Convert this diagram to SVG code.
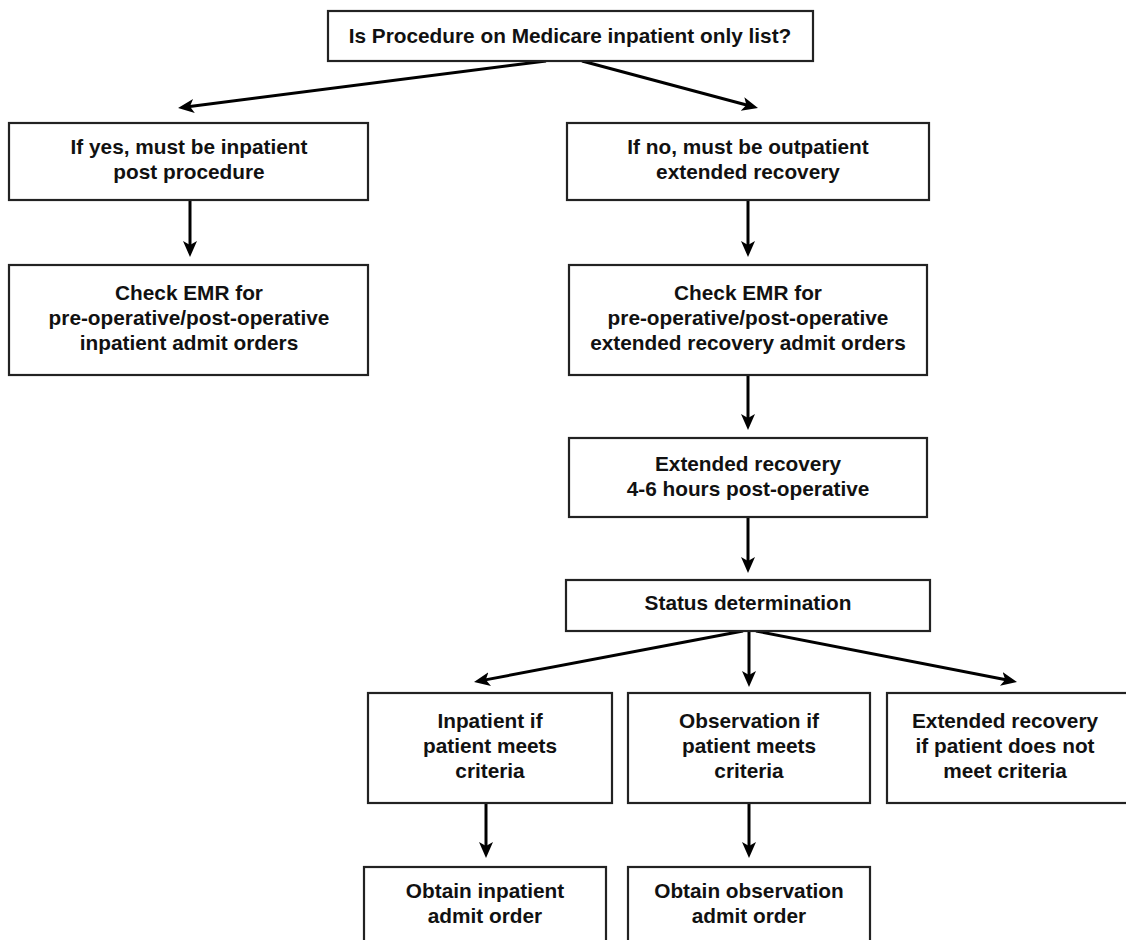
<svg xmlns="http://www.w3.org/2000/svg" width="1126" height="940" viewBox="0 0 1126 940">
<style>
.box{fill:#fff;stroke:#222;stroke-width:2.2}
.t{font-family:"Liberation Sans",Arial,sans-serif;font-weight:bold;font-size:20.8px;fill:#111;text-anchor:middle}
.c{stroke:#000;stroke-width:3;fill:none;marker-end:url(#ah)}
</style>
<defs>
<marker id="ah" markerUnits="userSpaceOnUse" markerWidth="18" markerHeight="16" viewBox="0 0 18 16" refX="10" refY="7" orient="auto">
<path d="M0,0 L16,7 L0,14 L4,7 Z" fill="#000"/>
</marker>
</defs>
<rect width="1126" height="940" fill="#fff"/>
<g id="connectors">
<line class="c" x1="546" y1="61" x2="184" y2="107.2"/>
<line class="c" x1="582" y1="61" x2="752.2" y2="106.5"/>
<line class="c" x1="190" y1="200" x2="190" y2="251"/>
<line class="c" x1="748" y1="200" x2="748" y2="251"/>
<line class="c" x1="748" y1="375" x2="748" y2="424"/>
<line class="c" x1="748" y1="517" x2="748" y2="567"/>
<line class="c" x1="743" y1="631" x2="479.9" y2="680.9"/>
<line class="c" x1="749" y1="631" x2="749" y2="681"/>
<line class="c" x1="756" y1="631" x2="1011.1" y2="680.8"/>
<line class="c" x1="486" y1="803" x2="486" y2="852"/>
<line class="c" x1="749" y1="803" x2="749" y2="852"/>
</g>
<g id="n-start">
<rect class="box" x="328" y="11" width="485" height="50"/>
<text class="t" x="570" y="43">Is Procedure on Medicare inpatient only list?</text>
</g>
<g id="n-yes">
<rect class="box" x="9" y="123" width="359" height="77"/>
<text class="t" x="189" y="154">If yes, must be inpatient</text>
<text class="t" x="189" y="179">post procedure</text>
</g>
<g id="n-no">
<rect class="box" x="567" y="123" width="362" height="77"/>
<text class="t" x="748" y="154">If no, must be outpatient</text>
<text class="t" x="748" y="179">extended recovery</text>
</g>
<g id="n-check-inpatient">
<rect class="box" x="9" y="265" width="359" height="110"/>
<text class="t" x="189" y="300">Check EMR for</text>
<text class="t" x="189" y="325">pre-operative/post-operative</text>
<text class="t" x="189" y="350">inpatient admit orders</text>
</g>
<g id="n-check-extended">
<rect class="box" x="569" y="265" width="358" height="110"/>
<text class="t" x="748" y="300">Check EMR for</text>
<text class="t" x="748" y="325">pre-operative/post-operative</text>
<text class="t" x="748" y="350">extended recovery admit orders</text>
</g>
<g id="n-extended">
<rect class="box" x="569" y="438" width="358" height="79"/>
<text class="t" x="748" y="471">Extended recovery</text>
<text class="t" x="748" y="496">4-6 hours post-operative</text>
</g>
<g id="n-status">
<rect class="box" x="566" y="580" width="364" height="51"/>
<text class="t" x="748" y="610">Status determination</text>
</g>
<g id="n-inpatient">
<rect class="box" x="368" y="693" width="244" height="110"/>
<text class="t" x="490" y="728">Inpatient if</text>
<text class="t" x="490" y="753">patient meets</text>
<text class="t" x="490" y="778">criteria</text>
</g>
<g id="n-observation">
<rect class="box" x="628" y="693" width="242" height="110"/>
<text class="t" x="749" y="728">Observation if</text>
<text class="t" x="749" y="753">patient meets</text>
<text class="t" x="749" y="778">criteria</text>
</g>
<g id="n-ext-recovery">
<rect class="box" x="887" y="693" width="245" height="110"/>
<text class="t" x="1005" y="728">Extended recovery</text>
<text class="t" x="1005" y="753">if patient does not</text>
<text class="t" x="1005" y="778">meet criteria</text>
</g>
<g id="n-obtain-inpatient">
<rect class="box" x="364" y="867" width="242" height="80"/>
<text class="t" x="485" y="898">Obtain inpatient</text>
<text class="t" x="485" y="923">admit order</text>
</g>
<g id="n-obtain-observation">
<rect class="box" x="628" y="867" width="242" height="80"/>
<text class="t" x="749" y="898">Obtain observation</text>
<text class="t" x="749" y="923">admit order</text>
</g>
</svg>
